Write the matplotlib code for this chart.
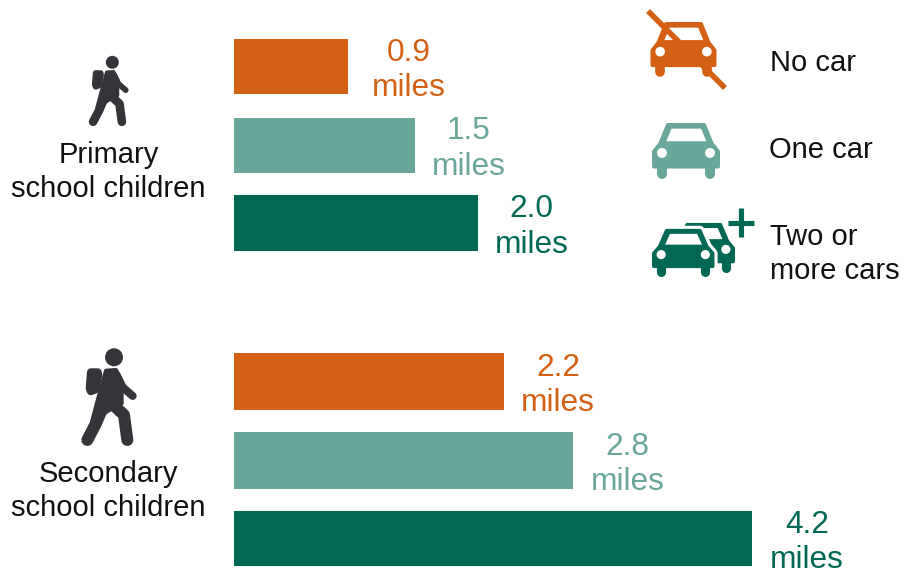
import matplotlib
matplotlib.use("Agg")
import matplotlib.pyplot as plt
from matplotlib.patches import Polygon, Circle

plt.rcParams['font.family'] = ['Liberation Sans', 'DejaVu Sans']

# ---- data ----
groups = ["Primary\nschool children", "Secondary\nschool children"]
car_categories = ["No car", "One car", "Two or\nmore cars"]
primary_miles = [0.93, 1.47, 1.98]      # drawn bar lengths
secondary_miles = [2.195, 2.76, 4.21]
primary_labels = ["0.9", "1.5", "2.0"]
secondary_labels = ["2.2", "2.8", "4.2"]
unit = "miles"

# ---- style / layout ----
ORANGE, MID, DARK = "#D46014", "#68A799", "#006853"
colors = [ORANGE, MID, DARK]
GREY = "#333538"
W, H = 916, 570
PX_PER_MILE = 123.0
X0 = 234
FS = 21
row_y = [66.5, 145, 223, 381.5, 460.5, 538.5]
bar_h = [55, 55, 56, 57, 57, 55]
label_dx = [60, 54, 54, 54, 54, 55]

fig = plt.figure(figsize=(W / 100, H / 100), dpi=100)

pix = fig.add_axes([0, 0, 1, 1])
pix.set_xlim(0, W); pix.set_ylim(H, 0); pix.axis("off")

ax = fig.add_axes([X0 / W, 0, (W - X0) / W, 1])
ax.set_xlim(0, (W - X0) / PX_PER_MILE); ax.set_ylim(H, 0); ax.axis("off")
ax.patch.set_alpha(0)

values = primary_miles + secondary_miles
labels = primary_labels + secondary_labels
bar_colors = colors + colors
ax.barh(row_y, values, height=bar_h, color=bar_colors, linewidth=0)
for y, v, lab, c, dx in zip(row_y, values, labels, bar_colors, label_dx):
    ax.annotate(f"{lab}\n{unit}", xy=(v, y), xytext=(dx * 0.72, -4 * 0.72),
                textcoords="offset points", ha="center", va="center",
                ma="center", fontsize=22.8, color=c, linespacing=1.25)

# ---- pictograms ----
CAR_BODY = [(113, 44), (222, 44), (245, 100), (264, 124), (264, 169),
            (71, 169), (71, 124), (90, 100)]
CAR_WIN = [(124, 55), (213, 55), (229, 93), (108, 93)]
CAR_LAMPS = [(95, 128), (240, 128)]
CAR_WHEELS = [95, 240]

def draw_car(x0, y0, w, h, color, halo=False, z=3, wheels=(0, 1)):
    sx, sy = w / 205, h / 167
    f = lambda p: (x0 + (p[0] - 65) * sx, y0 + (p[1] - 38) * sy)
    body = [f(p) for p in CAR_BODY]
    pt = sx * 0.72
    if halo:
        pix.add_patch(Polygon(body, closed=True, fc="white", ec="white",
                              lw=12 * pt + 4.5, joinstyle="round", zorder=z))
    pix.add_patch(Polygon(body, closed=True, fc=color, ec=color, lw=12 * pt,
                          joinstyle="round", zorder=z))
    for i in wheels:
        a, b = f((CAR_WHEELS[i], 165)), f((CAR_WHEELS[i], 190))
        pix.plot([a[0], b[0]], [a[1], b[1]], color=color, lw=30 * pt,
                 solid_capstyle="round", zorder=z)
    pix.add_patch(Polygon([f(p) for p in CAR_WIN], closed=True, fc="white",
                          ec="none", zorder=z))
    for p in CAR_LAMPS:
        pix.add_patch(Circle(f(p), 15 * sx, fc="white", ec="none", zorder=z))

draw_car(650.5, 22, 66, 55, ORANGE)
pix.plot([648, 725], [11, 88], color=ORANGE, lw=4, solid_capstyle="butt", zorder=4)

draw_car(652, 123, 68, 55.5, MID)

draw_car(672.5, 223, 62.5, 49, DARK, z=3, wheels=(1,))
draw_car(652, 229, 62.5, 47.5, DARK, halo=True, z=5)
pix.plot([741, 741], [208, 237], color=DARK, lw=3.7, solid_capstyle="butt", zorder=5)
pix.plot([727.5, 754], [222.7, 222.7], color=DARK, lw=3.7, solid_capstyle="butt", zorder=5)

def draw_walker(hx, hy, s):
    """Walking figure, coordinates relative to the head in 3x-zoom units."""
    f = lambda x, y: (hx + (x - 132) / 3 * s, hy + (y - 52) / 3 * s)
    lw = lambda d: d / 3 * s * 0.72
    pix.add_patch(Circle(f(132, 52), 27 / 3 * s, fc=GREY, ec="none", zorder=3))
    # backpack
    pts = [(62, 96), (84, 96), (86, 105), (76, 150), (62, 155), (58, 145)]
    pix.add_patch(Polygon([f(*p) for p in pts], closed=True, fc=GREY, ec=GREY,
                          lw=lw(22), joinstyle="round", zorder=3))
    # torso
    pts = [(108, 92), (138, 90), (155, 125), (155, 190), (115, 212), (66, 245), (86, 170)]
    pix.add_patch(Polygon([f(*p) for p in pts], closed=True, fc=GREY, ec=GREY,
                          lw=lw(12), joinstyle="round", zorder=3))
    # arm and legs
    for xs, ys, d in [((140, 158, 188), (105, 142, 168), 24),
                      ((95, 78, 52), (210, 250, 300), 36),
                      ((125, 162, 172), (190, 225, 300), 36)]:
        pts = [f(x, y) for x, y in zip(xs, ys)]
        pix.plot([p[0] for p in pts], [p[1] for p in pts], color=GREY, lw=lw(d),
                 solid_capstyle="round", solid_joinstyle="round", zorder=3)

draw_walker(112.3, 62.3, 0.72)
draw_walker(114, 357.3, 1.0)

# ---- free text ----
TXT = "#111111"
for s, y in zip(groups, [172, 491]):
    pix.text(108.5, y, s, ha="center", va="center", ma="center", fontsize=FS,
             color=TXT, linespacing=1.27)
for s, x, y in zip(car_categories, [770, 769, 770], [63, 150, 254]):
    pix.text(x, y, s, ha="left", va="center", fontsize=FS, color=TXT,
             linespacing=1.27)

fig.savefig("out.png", dpi=100, facecolor="white")
